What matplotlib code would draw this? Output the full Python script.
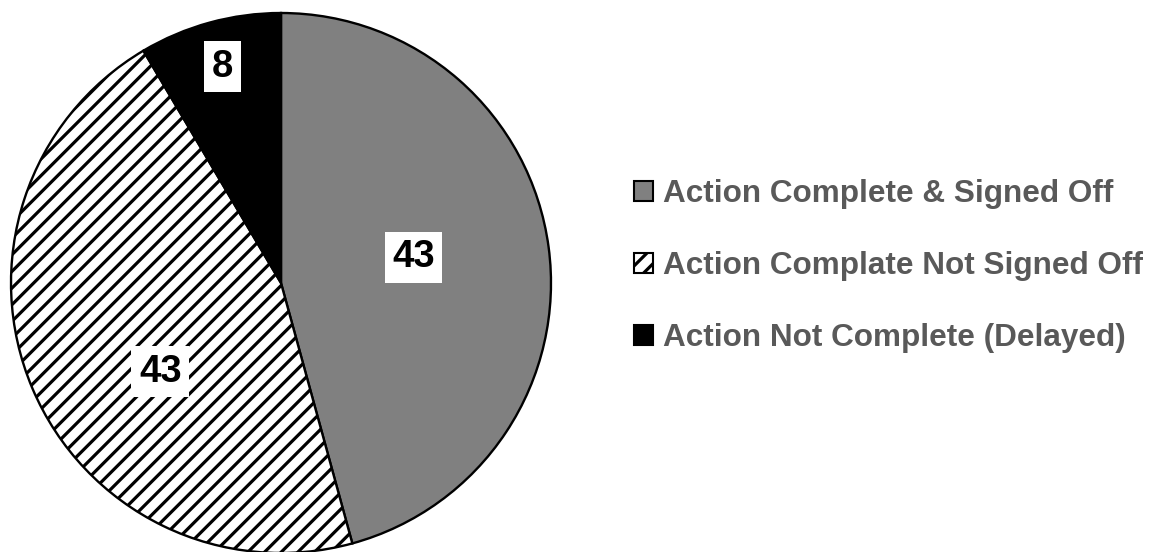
import numpy as np
import matplotlib
matplotlib.use("Agg")
import matplotlib.pyplot as plt
from matplotlib.patches import Patch

categories = ["Action Complete & Signed Off",
              "Action Complate Not Signed Off",
              "Action Not Complete (Delayed)"]
values = [43, 43, 8]

colors = ["#808080", "white", "black"]
hatches = [None, "//", None]
# label placement (fraction of radius, angle in degrees)
label_pos = [(0.50, 11.0), (0.555, -143.7), (0.83, 105.2)]

plt.rcParams['font.family'] = ['Liberation Sans', 'DejaVu Sans']
plt.rcParams['hatch.linewidth'] = 2.3

W, H, DPI = 1151, 552, 100
fig = plt.figure(figsize=(W / DPI, H / DPI), dpi=DPI)
ax = fig.add_axes([0, 0, 1, 1])

cx, cy, R = 281, H - 283, 270
wedges, _ = ax.pie(values, colors=colors, startangle=90, counterclock=False,
                   center=(cx, cy), radius=R, frame=True,
                   wedgeprops=dict(edgecolor='black', linewidth=1.7))
for w, h in zip(wedges, hatches):
    if h:
        w.set_hatch(h)
ax.set_xlim(0, W)
ax.set_ylim(0, H)
ax.axis('off')

for v, (f, ang) in zip(values, label_pos):
    x = cx + f * R * np.cos(np.radians(ang))
    y = cy + f * R * np.sin(np.radians(ang))
    ax.text(x, y, str(v), ha='center', va='center', fontsize=27.5,
            fontweight='bold', color='black',
            bbox=dict(facecolor='white', edgecolor='none', pad=5.5))

handles = [Patch(facecolor=c, edgecolor='black', hatch=h, linewidth=1.5)
           for c, h in zip(colors, hatches)]
leg = ax.legend(handles, categories, loc='center left',
                bbox_to_anchor=(634 / W, 1 - 266 / H), frameon=False,
                prop=dict(family='Liberation Sans', weight='bold', size=22.7),
                labelcolor='#595959', handlelength=0.6, handleheight=0.6,
                handletextpad=0.32, labelspacing=1.34, borderpad=0,
                borderaxespad=0)

fig.savefig("out.png", dpi=DPI)
